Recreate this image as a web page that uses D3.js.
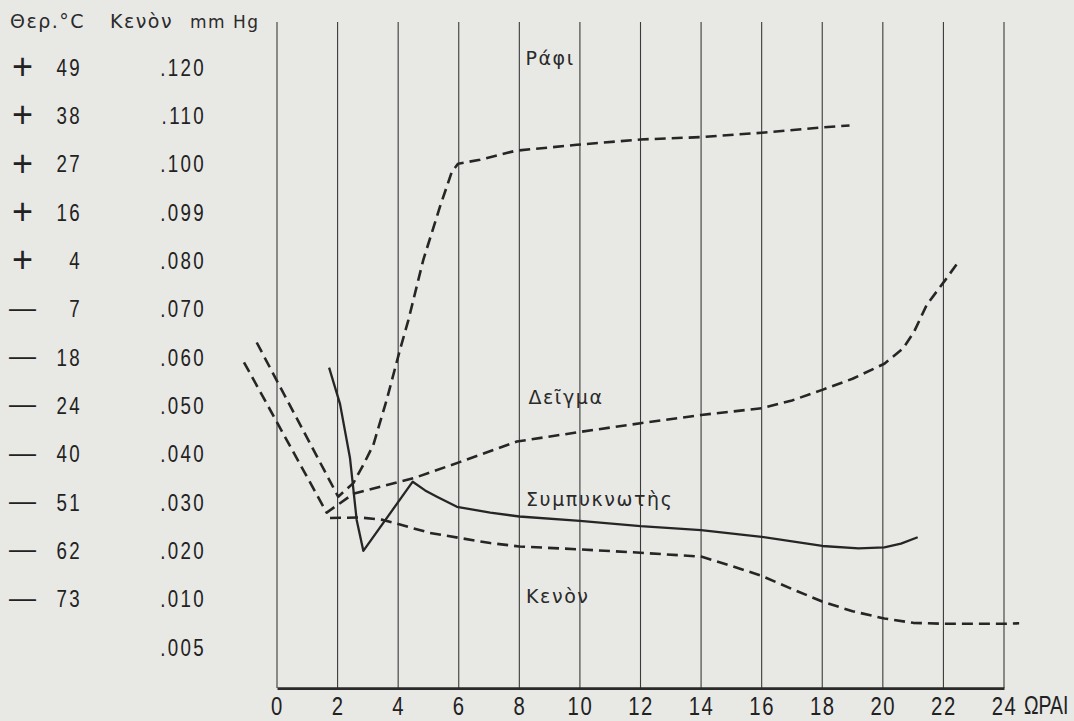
<!DOCTYPE html>
<html>
<head>
<meta charset="utf-8">
<script src="https://cdn.jsdelivr.net/npm/d3@7"></script>
<style>
  body { margin: 0; background: #e8e8e5; }
  svg { display: block; }
  .num { font-family: "Liberation Sans", Arial, sans-serif; fill: #222; }
  .lbl { font-family: "DejaVu Sans", sans-serif; fill: #2a2a2a; font-size: 19px; letter-spacing: 1.6px; }
</style>
</head>
<body>
<div id="chart"></div>
<script>
// tick labels
const hours = [0, 2, 4, 6, 8, 10, 12, 14, 16, 18, 20, 22, 24]
const tempValues = [49, 38, 27, 16, 4, -7, -18, -24, -40, -51, -62, -73]
const vacuumLabels = [".120", ".110", ".100", ".099", ".080", ".070", ".060", ".050", ".040", ".030", ".020", ".010", ".005"]

// curves: [hour, grid level]  (level 12 = top row ".120", level 0 = ".005")
const shelf = [[-0.67, 6.30], [2.02, 3.11], [2.52, 3.39], [2.85, 3.77], [3.18, 4.18], [3.62, 5.11], [4.06, 6.15],
  [4.34, 6.77], [4.83, 8.01], [5.38, 9.11], [5.77, 9.83], [5.98, 10.0], [6.7, 10.08], [7.9, 10.27], [9.9, 10.39],
  [12, 10.5], [14, 10.55], [16, 10.64], [18, 10.75], [18.9, 10.79]]
const sample = [[-1.09, 5.89], [1.64, 2.78], [2.52, 3.17], [4.5, 3.49], [6.05, 3.83], [7.92, 4.25], [10, 4.45],
  [12, 4.63], [14, 4.80], [16, 4.94], [17, 5.1], [18, 5.32], [19, 5.55], [20.05, 5.86], [20.67, 6.18], [21.03, 6.52],
  [21.45, 7.08], [22.06, 7.59], [22.54, 8.01]]
const condenser = [[1.72, 5.78], [2.08, 5.03], [2.41, 3.91], [2.63, 2.63], [2.85, 1.99], [4.48, 3.42], [4.89, 3.24],
  [5.28, 3.11], [5.94, 2.90], [7.04, 2.78], [8, 2.70], [10, 2.61], [12, 2.50], [14, 2.42], [16, 2.28], [18, 2.09],
  [19.2, 2.04], [20.05, 2.06], [20.6, 2.14], [21.15, 2.27]]
const vacuum = [[1.75, 2.67], [2.74, 2.68], [3.5, 2.63], [5.05, 2.36], [7.04, 2.15], [8, 2.08], [10, 2.02], [12, 1.95],
  [14, 1.87], [15, 1.68], [16, 1.47], [17, 1.2], [18, 0.94], [19, 0.74], [20.05, 0.59], [21, 0.5], [22, 0.48],
  [24, 0.48], [24.5, 0.49]]

const width = 1074
const height = 721
const squeeze = "scale(0.78,1)"   // condensed look for the numerals

const svg = d3.select("#chart")
  .append("svg")
  .attr("width", width)
  .attr("height", height)

const x = d3.scaleLinear().domain([0, 24]).range([277, 1004])
const y = d3.scaleLinear().domain([0, 12]).range([647, 67])
const yTop = 12.93, yBase = -0.85

// vertical grid
svg.append("g")
  .selectAll("line")
  .data(hours)
  .enter()
  .append("line")
  .attr("x1", d => x(d)).attr("x2", d => x(d))
  .attr("y1", y(yTop)).attr("y2", y(yBase))
  .attr("stroke", "#3a3a3a")
  .attr("stroke-width", 1.1)

// x axis
const xAxis = d3.axisBottom(x).tickValues(hours).tickSize(0).tickPadding(8)
const gx = svg.append("g")
  .attr("transform", `translate(0,${y(yBase)})`)
  .call(xAxis)
gx.select(".domain").attr("stroke", "#2a2a2a").attr("stroke-width", 2.6)
gx.selectAll("text")
  .attr("class", "num")
  .attr("fill", null)
  .attr("transform", squeeze)
  .style("font-size", "26px")
  .style("letter-spacing", "2px")

// unit label: small font stretched upward so it stays inside the page
svg.append("g")
  .attr("transform", `translate(${x(24) + 20},${y(yBase) + 26}) scale(1,1.28)`)
  .append("text")
  .attr("class", "num")
  .style("font-size", "19.5px")
  .text("ΩΡΑΙ")

// left labels: temperature and vacuum columns
const rows = d3.range(vacuumLabels.length).map(i => 12 - i)

const leftCol = (values, xPos, fmt, size, shift, anchor, tf) => {
  svg.append("g")
    .selectAll("g")
    .data(values)
    .enter()
    .append("g")
    .attr("transform", (d, i) => `translate(${xPos},${y(rows[i]) + shift(d)})`)
    .append("text")
    .attr("class", "num")
    .attr("text-anchor", anchor)
    .attr("transform", tf)
    .style("font-size", d => size(d) + "px")
    .style("letter-spacing", "3px")
    .text(fmt)
}

leftCol(tempValues, 82, d => Math.abs(d), () => 24, () => 8.5, "end", squeeze)
leftCol(vacuumLabels, 206, d => d, () => 24, () => 8.5, "end", squeeze)
leftCol(tempValues, 24, d => d > 0 ? "+" : "—", d => d > 0 ? 36 : 27, d => d > 0 ? 12 : 8, "middle", null)

// header
const header = svg.append("g").attr("class", "lbl").style("letter-spacing", "1.5px")
header.append("text").attr("x", 10).attr("y", 28).text("Θερ.°C")
header.append("text").attr("x", 110).attr("y", 28).text("Κενὸν")
header.append("text").attr("x", 190).attr("y", 28).style("font-size", "17px").text("mm Hg")

// curves
const line = d3.line()
  .x(d => x(d[0]))
  .y(d => y(d[1]))

const series = [
  { data: shelf, dash: "11,6" },
  { data: sample, dash: "11,6" },
  { data: vacuum, dash: "11,6" },
  { data: condenser, dash: null }
]

svg.append("g")
  .selectAll("path")
  .data(series)
  .enter()
  .append("path")
  .attr("d", d => line(d.data))
  .attr("fill", "none")
  .attr("stroke", "#262626")
  .attr("stroke-width", d => d.dash ? 2.6 : 2.3)
  .attr("stroke-dasharray", d => d.dash)
  .attr("stroke-linejoin", "round")

// curve names
const names = [
  { text: "Ράφι", h: 8.2, lv: 12.04 },
  { text: "Δεῖγμα", h: 8.3, lv: 5.03 },
  { text: "Συμπυκνωτὴς", h: 8.22, lv: 2.92 },
  { text: "Κενὸν", h: 8.22, lv: 0.91 }
]

svg.append("g")
  .selectAll("text")
  .data(names)
  .enter()
  .append("text")
  .attr("class", "lbl")
  .attr("x", d => x(d.h))
  .attr("y", d => y(d.lv))
  .text(d => d.text)
</script>
</body>
</html>
